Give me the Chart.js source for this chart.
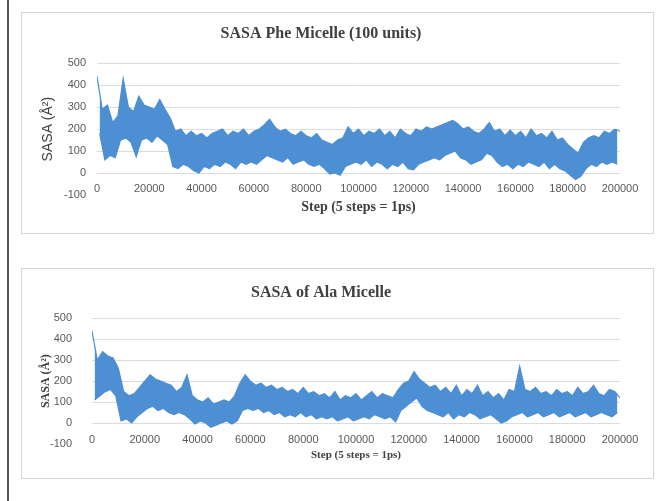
<!DOCTYPE html>
<html>
<head>
<meta charset="utf-8">
<script src="https://cdn.jsdelivr.net/npm/chart.js@4.4.1/dist/chart.umd.min.js"></script>
<style>
  html, body { margin: 0; padding: 0; background: #fff; }
  body { width: 656px; height: 501px; position: relative; overflow: hidden; }
  .edge { position: absolute; left: 7px; top: 0; width: 2px; height: 501px; background: #555; }
  .box { position: absolute; left: 21px; width: 631px; border: 1px solid #d6d6d6; background: #fff; }
  #box1 { top: 12px; height: 220px; }
  #box2 { top: 268px; height: 209px; }
  canvas { display: block; }
</style>
</head>
<body>
<div class="edge"></div>
<div class="box" id="box1"><canvas id="phe-chart" width="631" height="220"></canvas></div>
<div class="box" id="box2"><canvas id="ala-chart" width="631" height="209"></canvas></div>

<script>
// SASA traces: band tops at steps 0, 2000, ... 200000
// and band bottoms at steps 1000, 3000, ... 199000
const pheHigh = [440, 290, 310, 230, 260, 430, 300, 280, 350, 310,
  300, 290, 335, 290, 250, 190, 200, 170, 190, 170,
  180, 160, 180, 190, 200, 170, 190, 180, 200, 170,
  190, 200, 220, 245, 210, 190, 200, 180, 170, 190,
  170, 160, 180, 150, 140, 130, 150, 160, 210, 180,
  200, 170, 190, 180, 200, 170, 190, 160, 200, 180,
  170, 200, 190, 210, 200, 210, 220, 230, 240, 225,
  200, 210, 190, 180, 200, 230, 190, 200, 170, 195,
  170, 190, 160, 200, 170, 180, 160, 190, 150, 160,
  130, 110, 90, 140, 160, 170, 160, 190, 180, 200, 190];
const pheLow = [180, 60, 80, 70, 150, 160, 140, 75, 150, 160,
  140, 170, 150, 130, 30, 20, 40, 30, 10, 0,
  30, 20, 40, 30, 50, 40, 20, 50, 40, 50,
  40, 60, 80, 70, 60, 50, 70, 40, 50, 60,
  40, 30, 40, 20, -5, 0, -10, 30, 40, 50,
  40, 60, 30, 50, 40, 20, 40, 30, 50, 20,
  15, 40, 50, 60, 70, 60, 80, 90, 100, 70,
  60, 40, 50, 60, 90, 80, 50, 30, 40, 20,
  40, 30, 50, 40, 30, 50, 20, 40, 20, 10,
  -10, -30, -15, 20, 40, 30, 50, 40, 50, 40];

const alaHigh = [440, 300, 340, 320, 310, 260, 150, 130, 140, 170,
  200, 230, 210, 200, 190, 180, 150, 170, 230, 130,
  110, 100, 120, 90, 100, 110, 100, 130, 190, 230,
  200, 180, 190, 170, 180, 160, 170, 150, 160, 140,
  170, 140, 150, 130, 140, 120, 150, 110, 130, 120,
  140, 110, 130, 150, 120, 140, 130, 120, 160, 190,
  200, 245, 210, 190, 170, 180, 150, 170, 140, 180,
  130, 160, 140, 180, 130, 150, 120, 140, 110, 160,
  150, 270, 160, 150, 170, 140, 150, 130, 160, 140,
  150, 130, 170, 140, 150, 180, 140, 130, 160, 150, 120];
const alaLow = [110, 130, 150, 160, 130, 10, 20, 0, 30, 50,
  70, 80, 60, 70, 50, 40, 50, 40, 20, -5,
  10, 0, -20, -10, 0, 10, -5, 10, 60, 70,
  60, 70, 50, 60, 40, 50, 30, 40, 30, 50,
  30, 40, 20, 30, 20, 30, 10, 20, 30, 10,
  20, 30, 20, 40, 30, 20, 30, 5, 60, 80,
  100, 120, 80, 60, 50, 40, 30, 50, 20, 40,
  30, 50, 40, 20, 30, 40, 20, 0, 10, 30,
  40, 50, 30, 40, 50, 30, 40, 50, 30, 40,
  50, 30, 40, 50, 30, 40, 50, 40, 30, 50];

const stepSpacing = 2000;
const yTicks = [-100, 0, 100, 200, 300, 400, 500];
const xTicks = [0, 20000, 40000, 60000, 80000, 100000, 120000, 140000, 160000, 180000, 200000];

const lineColor = '#4d8fd3';
const serif = "'Liberation Serif', 'Times New Roman', serif";
const sans = "'Liberation Sans', Arial, sans-serif";

function toPoints(values, offset) {
  return values.map((v, i) => ({ x: i * stepSpacing + offset, y: v }));
}

function makeChart(id, cfg) {
  const ctx = document.getElementById(id).getContext('2d');
  return new Chart(ctx, {
    type: 'line',
    data: {
      datasets: [
        {
          // top of the noisy band
          data: toPoints(cfg.high, 0),
          borderColor: lineColor,
          borderWidth: 1.2,
          pointRadius: 0,
          tension: 0,
          fill: false
        },
        {
          // bottom of the band, filled up to the top
          data: toPoints(cfg.low, stepSpacing / 2),
          borderColor: lineColor,
          backgroundColor: lineColor,
          borderWidth: 1.2,
          pointRadius: 0,
          tension: 0,
          fill: '-1'
        }
      ]
    },
    options: {
      responsive: false,
      animation: false,
      devicePixelRatio: 1,
      layout: { padding: { top: 3, left: 0, right: 33, bottom: cfg.bottomPad } },
      plugins: {
        legend: { display: false },
        tooltip: { enabled: false },
        title: {
          display: true,
          text: cfg.title,
          color: '#404040',
          font: { family: serif, size: 16, weight: 'bold' },
          padding: { top: cfg.titleTop, bottom: cfg.titleBottom }
        }
      },
      scales: {
        x: {
          type: 'linear',
          min: 0,
          max: 200000,
          afterBuildTicks: (scale) => { scale.ticks = xTicks.map(v => ({ value: v })); },
          afterFit: (scale) => { scale.height = cfg.xHeight; },
          grid: { display: false, drawTicks: false },
          border: { display: false },
          ticks: {
            color: '#595959',
            font: { family: sans, size: 11 },
            // labels sit just above the bottom of the plot, as in the Excel original
            mirror: true,
            padding: cfg.xTickPad,
            autoSkip: false,
            maxRotation: 0,
            callback: (v) => String(v)
          },
          title: {
            display: true,
            text: 'Step (5 steps = 1ps)',
            color: '#404040',
            font: { family: serif, size: cfg.xTitleSize, weight: 'bold' },
            padding: { top: 0, bottom: cfg.xTitleBottom }
          }
        },
        y: {
          min: -100,
          max: 500,
          afterBuildTicks: (scale) => { scale.ticks = yTicks.map(v => ({ value: v })); },
          afterFit: (scale) => { scale.width = cfg.yWidth; },
          grid: {
            drawTicks: false,
            color: (c) => (c.tick && c.tick.value === -100) ? 'rgba(0,0,0,0)' : '#dcdcdc',
            lineWidth: 1
          },
          border: { display: false },
          ticks: {
            color: '#595959',
            font: { family: sans, size: 11 },
            padding: cfg.yTickPad,
            callback: (v) => String(v)
          },
          title: {
            display: true,
            text: 'SASA (Å²)',
            color: '#404040',
            font: cfg.yTitleFont,
            padding: { top: cfg.yTitleTop, bottom: 0 }
          }
        }
      }
    }
  });
}

makeChart('phe-chart', {
  high: pheHigh,
  low: pheLow,
  title: 'SASA Phe Micelle (100 units)',
  titleTop: 8,
  titleBottom: 20,
  bottomPad: 12,
  xHeight: 26,
  xTickPad: -1,
  xTitleSize: 14,
  xTitleBottom: 5,
  yWidth: 75,
  yTickPad: 11,
  yTitleFont: { family: sans, size: 14 },
  yTitleTop: 18
});

makeChart('ala-chart', {
  high: alaHigh,
  low: alaLow,
  title: 'SASA of Ala Micelle',
  titleTop: 11,
  titleBottom: 16,
  bottomPad: 12,
  xHeight: 22,
  xTickPad: -3,
  xTitleSize: 11,
  xTitleBottom: 4,
  yWidth: 70,
  yTickPad: 20,
  yTitleFont: { family: serif, size: 12, weight: 'bold' },
  yTitleTop: 17
});
</script>
</body>
</html>
